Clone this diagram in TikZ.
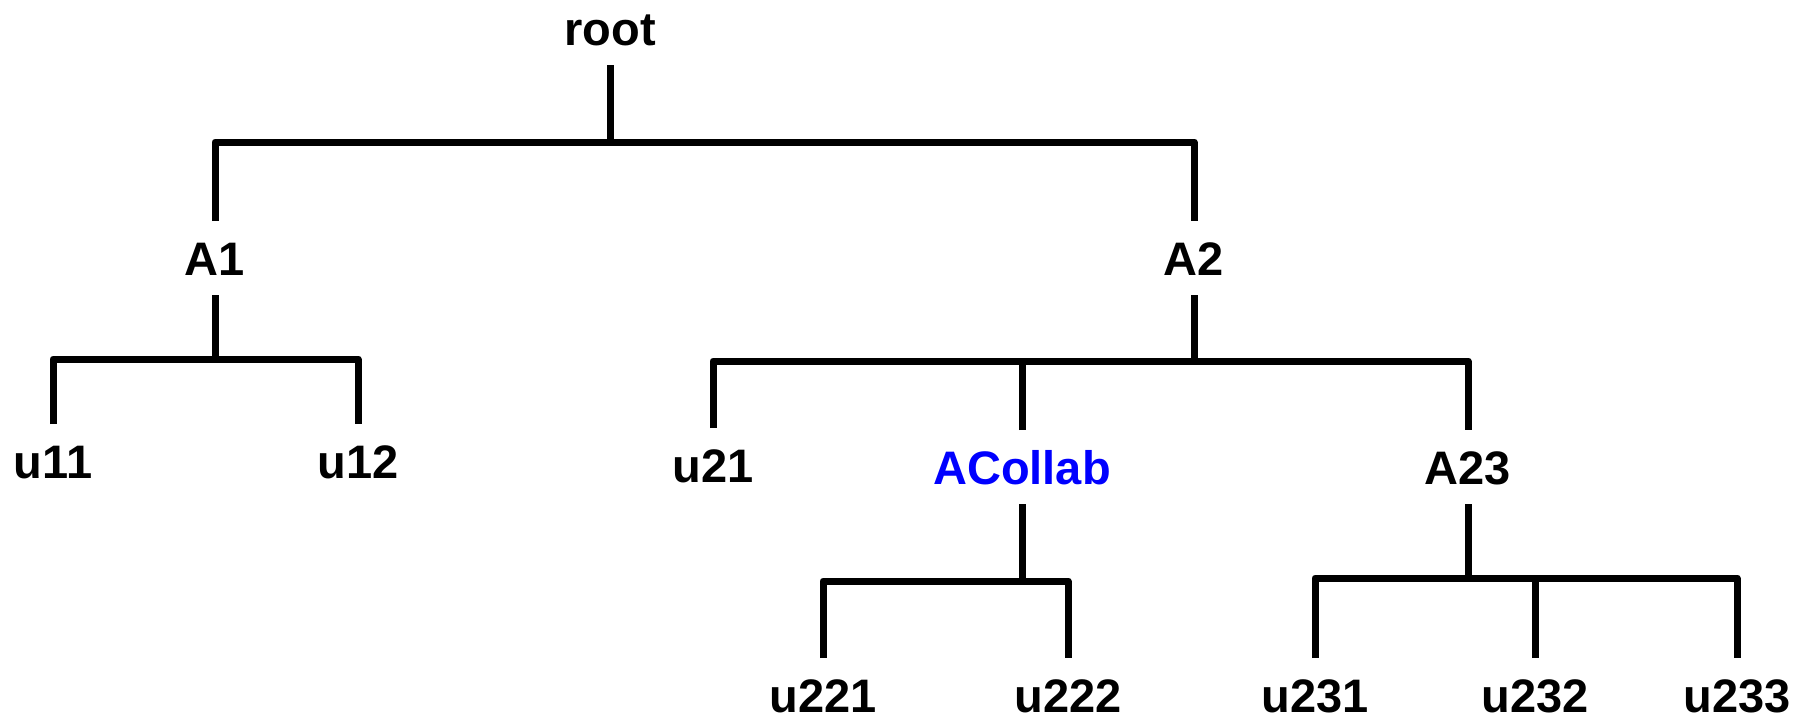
\documentclass[tikz,border=0pt]{standalone}
\usepackage{fontspec}
\setmainfont{Liberation Sans}
\begin{document}
\begin{tikzpicture}[x=0.5pt,y=-0.5pt,
  lbl/.style={font=\fontsize{23.5}{28}\selectfont\bfseries, anchor=base,
    inner xsep=0pt, inner ysep=10pt, text height=16.8pt, text depth=0pt},
  edge/.style={line width=3.5pt, line join=round}]
\useasboundingbox (0,0) rectangle (1807,719);
% nodes
\node[lbl] (root) at (610,45) {root};
\node[lbl] (A1) at (215,275) {A1};
\node[lbl] (A2) at (1194,275) {A2};
\node[lbl] (u11) at (53,478) {u11};
\node[lbl] (u12) at (358,478) {u12};
\node[lbl] (u21) at (713,482) {u21};
\node[lbl, text={rgb,255:red,0;green,0;blue,255}] (ACollab) at (1022,484) {ACollab};
\node[lbl] (A23) at (1468,484) {A23};
\node[lbl] (u221) at (823,712) {u221};
\node[lbl] (u222) at (1068,712) {u222};
\node[lbl] (u231) at (1315,712) {u231};
\node[lbl] (u232) at (1535,712) {u232};
\node[lbl] (u233) at (1737,712) {u233};
% bar levels
\coordinate (b0) at (0,142);
\coordinate (b1) at (0,359);
\coordinate (b2) at (0,361);
\coordinate (b3) at (0,581);
\coordinate (b4) at (0,578);
% connectors
\draw[edge] (root.south) -- (root.south |- b0);
\draw[edge] (A1.north) -- (A1.north |- b0) -- (A2.north |- b0) -- (A2.north);
\draw[edge] (A1.south) -- (A1.south |- b1);
\draw[edge] (u11.north) -- (u11.north |- b1) -- (u12.north |- b1) -- (u12.north);
\draw[edge] (A2.south) -- (A2.south |- b2);
\draw[edge] (u21.north) -- (u21.north |- b2) -- (A23.north |- b2) -- (A23.north);
\draw[edge] (ACollab.north) -- (ACollab.north |- b2);
\draw[edge] (ACollab.south) -- (ACollab.south |- b3);
\draw[edge] (u221.north) -- (u221.north |- b3) -- (u222.north |- b3) -- (u222.north);
\draw[edge] (A23.south) -- (A23.south |- b4);
\draw[edge] (u231.north) -- (u231.north |- b4) -- (u233.north |- b4) -- (u233.north);
\draw[edge] (u232.north) -- (u232.north |- b4);
\end{tikzpicture}
\end{document}
